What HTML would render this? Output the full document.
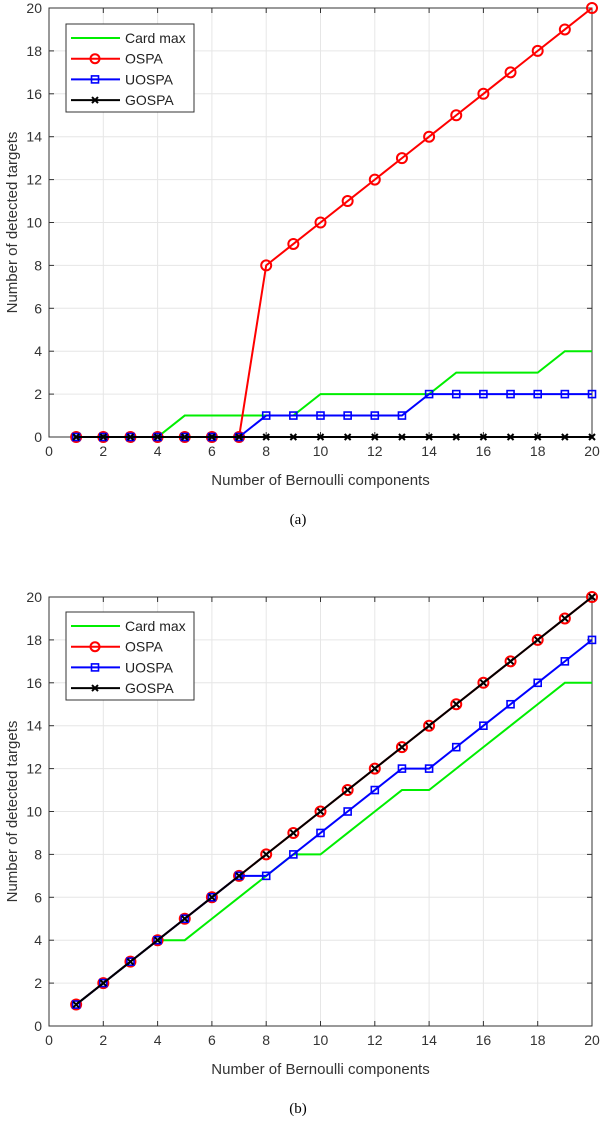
<!DOCTYPE html>
<html><head><meta charset="utf-8"><style>
body{margin:0;background:#fff;width:602px;height:1116px;overflow:hidden}
svg{font-family:"Liberation Sans",sans-serif}
</style></head><body>
<svg id="s" width="602" height="1116" xmlns="http://www.w3.org/2000/svg"></svg>
<script>
const xs=[1,2,3,4,5,6,7,8,9,10,11,12,13,14,15,16,17,18,19,20];
const aCard=[0,0,0,0,1,1,1,1,1,2,2,2,2,2,3,3,3,3,4,4];
const aOspa=[0,0,0,0,0,0,0,8,9,10,11,12,13,14,15,16,17,18,19,20];
const aUospa=[0,0,0,0,0,0,0,1,1,1,1,1,1,2,2,2,2,2,2,2];
const aGospa=[0,0,0,0,0,0,0,0,0,0,0,0,0,0,0,0,0,0,0,0];
const bCard=[1,2,3,4,4,5,6,7,8,8,9,10,11,11,12,13,14,15,16,16];
const bOspa=[1,2,3,4,5,6,7,8,9,10,11,12,13,14,15,16,17,18,19,20];
const bUospa=[1,2,3,4,5,6,7,7,8,9,10,11,12,12,13,14,15,16,17,18];
const bGospa=[1,2,3,4,5,6,7,8,9,10,11,12,13,14,15,16,17,18,19,20];
const ticks=[0,2,4,6,8,10,12,14,16,18,20];
const NS="http://www.w3.org/2000/svg";
const svg=document.getElementById('s');
function mk(t,a,p){const e=document.createElementNS(NS,t);for(const k in a)e.setAttribute(k,a[k]);(p||svg).appendChild(e);return e;}
function chart(top,bot,name,card,ospa,uospa,gospa,cap,legTop){
 const L=49,R=592;
 const g=mk('g',{});
 
 
 const X=v=>L+(R-L)*v/20, Y=v=>bot-(bot-top)*v/20;
 mk('rect',{x:L,y:top,width:R-L,height:bot-top,fill:'#fff'},g);
 ticks.forEach(t=>{
  mk('line',{x1:X(t),x2:X(t),y1:top,y2:bot,stroke:'#e6e6e6','stroke-width':1},g);
  mk('line',{x1:L,x2:R,y1:Y(t),y2:Y(t),stroke:'#e6e6e6','stroke-width':1},g);
 });
 ticks.forEach(t=>{
  mk('line',{x1:X(t),x2:X(t),y1:bot,y2:bot-5,stroke:'#333'},g);
  mk('line',{x1:X(t),x2:X(t),y1:top,y2:top+5,stroke:'#333'},g);
  mk('line',{x1:L,x2:L+5,y1:Y(t),y2:Y(t),stroke:'#333'},g);
  mk('line',{x1:R,x2:R-5,y1:Y(t),y2:Y(t),stroke:'#333'},g);
  const tx=mk('text',{x:X(t),y:bot+19,'text-anchor':'middle','font-size':14,fill:'#333'},g);tx.textContent=t;
  
  
  const ty=mk('text',{x:L-7,y:Y(t)+5,'text-anchor':'end','font-size':14,fill:'#333'},g);ty.textContent=t;
  
  
 });
 mk('rect',{x:L,y:top,width:R-L,height:bot-top,fill:'none',stroke:'#333','stroke-width':1},g);
 const xt=mk('text',{x:(L+R)/2,y:bot+48,'text-anchor':'middle','font-size':15,fill:'#333'},g);xt.textContent='Number of Bernoulli components';
 
 
 const yt=mk('text',{x:0,y:0,'text-anchor':'middle','font-size':15,fill:'#333',transform:`translate(17,${(top+bot)/2}) rotate(-90)`},g);yt.textContent='Number of detected targets';
 
 
 const c=mk('text',{x:298,y:bot+87,'text-anchor':'middle','font-size':15,'font-family':'Liberation Serif',fill:'#000'},g);c.textContent=cap;
 
 
 const series=[[card,'#00ee00',null,'card-max-line'],[ospa,'#ff0000','o','ospa-line'],[uospa,'#0000ff','s','uospa-line'],[gospa,'#000','x','gospa-line']];
 series.forEach(([d,col,m,nm])=>{
  const p=mk('polyline',{points:d.map((v,i)=>X(xs[i])+','+Y(v)).join(' '),fill:'none',stroke:col,'stroke-width':2},g);
  
  
  d.forEach((v,i)=>{
   const x=X(xs[i]),y=Y(v);let e;
   if(m==='o')e=mk('circle',{cx:x,cy:y,r:5,fill:'none',stroke:col,'stroke-width':2},g);
   else if(m==='s')e=mk('rect',{x:x-3.5,y:y-3.5,width:7,height:7,fill:'none',stroke:col,'stroke-width':1.6},g);
   else if(m==='x')e=mk('path',{d:`M${x-3} ${y-3}L${x+3} ${y+3}M${x-3} ${y+3}L${x+3} ${y-3}`,stroke:col,'stroke-width':2},g);
   if(e){
   }
  });
 });
 const lg=mk('g',{},g);
 
 
 mk('rect',{x:66,y:legTop,width:128,height:88,fill:'#fff',stroke:'#333','stroke-width':1},lg);
 const names=['Card max','OSPA','UOSPA','GOSPA'];
 series.forEach(([d,col,m],i)=>{
  const y=legTop+14+i*20.7;
  mk('line',{x1:71,x2:120,y1:y,y2:y,stroke:col,'stroke-width':2},lg);
  if(m==='o')mk('circle',{cx:95,cy:y,r:4.5,fill:'none',stroke:col,'stroke-width':2},lg);
  if(m==='s')mk('rect',{x:91.5,y:y-3.5,width:7,height:7,fill:'none',stroke:col,'stroke-width':1.6},lg);
  if(m==='x')mk('path',{d:`M92 ${y-3}L98 ${y+3}M92 ${y+3}L98 ${y-3}`,stroke:col,'stroke-width':2},lg);
  const t=mk('text',{x:125,y:y+5,'font-size':14,fill:'#222'},lg);t.textContent=names[i];
  
  
 });
}
chart(8,437,'chart-a',aCard,aOspa,aUospa,aGospa,'(a)',24);
chart(597,1026,'chart-b',bCard,bOspa,bUospa,bGospa,'(b)',612);
</script>
</body></html>
